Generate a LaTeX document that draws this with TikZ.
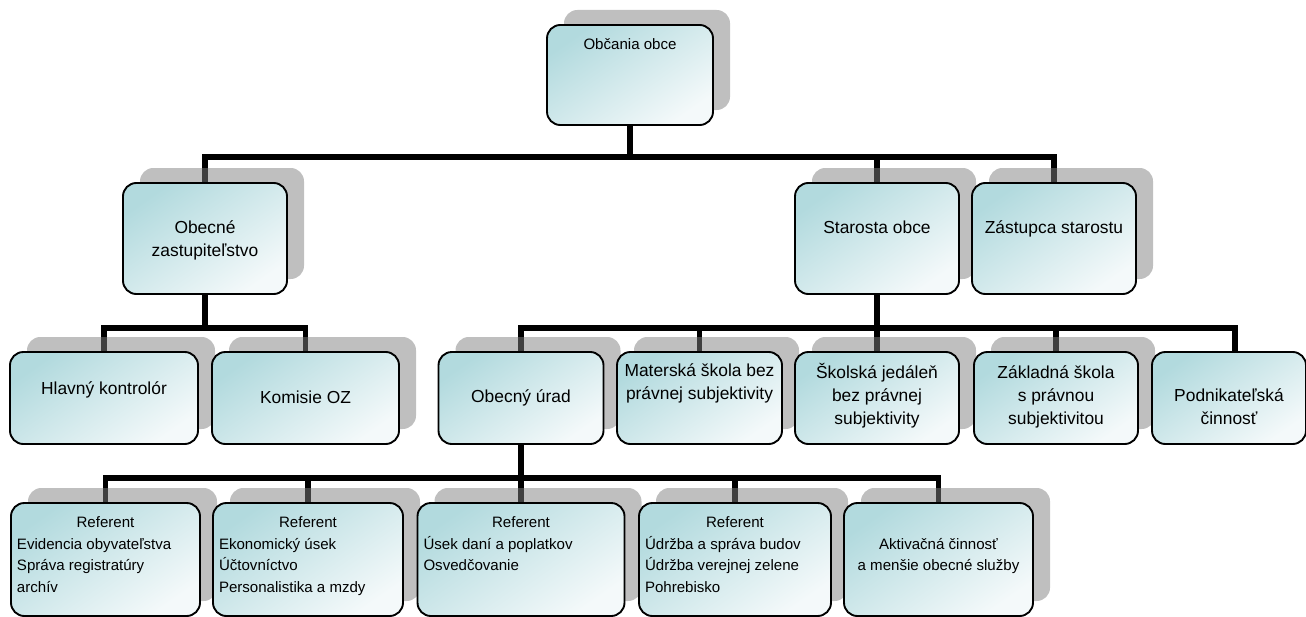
\documentclass[tikz,border=0pt]{standalone}
\usepackage{fontspec}
\setmainfont{Liberation Sans}
\usetikzlibrary{shadows}
\pgfdeclarelayer{lines}
\pgfsetlayers{lines,main}
\definecolor{tealc}{HTML}{B2DADE}
\definecolor{whitec}{HTML}{F4F9FA}
\newcommand\ocbx[3]{\parbox[c][\dimexpr#2pt*3/4\relax][t]{\dimexpr#1pt*3/4\relax}{#3}}
\newcommand\ocfb[1]{\rule{0pt}{\dimexpr#1pt*3/4\relax}}
\newcommand\octop{\fontsize{11.3}{16}\selectfont\centering}
\newcommand\ocmid{\fontsize{13.05}{17.6}\selectfont\centering}
\newcommand\ocbot{\fontsize{11.3}{16.3}\selectfont}
\tikzset{
  ocbase/.style={draw=black, line width=1.4pt, rounded corners=10pt, inner sep=0pt, outer sep=0pt,
    top color=tealc, bottom color=whitec, shading angle=35},
  ocbox/.style={ocbase, drop shadow={shadow xshift=12.75pt, shadow yshift=11.25pt, fill=black!50, opacity=0.5}},
  conn/.style={line width=4.3pt, black},
}
\begin{document}
\begin{tikzpicture}[x=0.75pt, y=-0.75pt]
\useasboundingbox (0,0) rectangle (1306,617);
% top
\node[ocbox] (ob) at (630,75) {\ocbx{166}{100}{\octop\ocfb{25}Občania obce}};
% row 1
\node[ocbox] (oz) at (205,238.5) {\ocbx{164}{111}{\ocmid\ocfb{50}Obecné\\zastupiteľstvo}};
\node[ocbox] (st) at (877,238.5) {\ocbx{164}{111}{\ocmid\ocfb{50}Starosta obce}};
\node[ocbox] (za) at (1054,238.5) {\ocbx{164}{111}{\ocmid\ocfb{50}Zástupca starostu}};
% row 2
\node[ocbox] (hk) at (104,398) {\ocbx{188}{92}{\ocmid\ocfb{42}Hlavný kontrolór}};
\node[ocbox] (ko) at (305.5,398) {\ocbx{187}{92}{\ocmid\ocfb{51}Komisie OZ}};
\node[ocbox] (ou) at (521,398) {\ocbx{165}{92}{\ocmid\ocfb{50}Obecný úrad}};
\node[ocbox] (ms) at (699.5,398) {\ocbx{165}{92}{\ocmid\ocfb{24}Materská škola bez\\právnej subjektivity}};
\node[ocbox] (sj) at (877,398) {\ocbx{164}{92}{\ocmid\ocfb{26}Školská jedáleň\\bez právnej\\subjektivity}};
\node[ocbox] (zs) at (1056,398) {\ocbx{164}{92}{\ocmid\ocfb{26}Základná škola\\s právnou\\subjektivitou}};
\node[ocbase] (po) at (1229,398) {\ocbx{154}{92}{\ocmid\ocfb{49}Podnikateľská\\činnosť}};
% row 3
\node[ocbox] (r1) at (105.5,559.5) {\ocbx{189}{113}{\ocbot\centering\ocfb{24.5}Referent\par\raggedright\leftskip=4.5pt Evidencia obyvateľstva\\Správa registratúry\\archív}};
\node[ocbox] (r2) at (308,559.5) {\ocbx{190}{113}{\ocbot\centering\ocfb{24.5}Referent\par\raggedright\leftskip=4.5pt Ekonomický úsek\\Účtovníctvo\\Personalistika a mzdy}};
\node[ocbox] (r3) at (521,559.5) {\ocbx{207}{113}{\ocbot\centering\ocfb{24.5}Referent\par\raggedright\leftskip=4.5pt Úsek daní a poplatkov\\Osvedčovanie}};
\node[ocbox] (r4) at (735,559.5) {\ocbx{192}{113}{\ocbot\centering\ocfb{24.5}Referent\par\raggedright\leftskip=4.5pt Údržba a správa budov\\Údržba verejnej zelene\\Pohrebisko}};
\node[ocbox] (r5) at (938.5,559.5) {\ocbx{189}{113}{\ocbot\centering\ocfb{46}Aktivačná činnosť\\a menšie obecné služby}};
% connectors
\coordinate (b1) at (630,157);
\coordinate (b2) at (205,328);
\coordinate (b3) at (877,328);
\coordinate (b4) at (521,478);
\begin{pgfonlayer}{lines}
\draw[conn] (ob.south) -- (b1);
\draw[conn] (oz.north) |- (b1) -| (za.north);
\draw[conn] (st.north) -- (st.north |- b1);
\draw[conn] (oz.south) -- (b2);
\draw[conn] (hk.north) |- (b2) -| (ko.north);
\draw[conn] (st.south) -- (sj.north);
\draw[conn] (ou.north) |- (b3) -| ([xshift=4.5pt]po.north);
\draw[conn] (ms.north) -- (ms.north |- b3);
\draw[conn] (zs.north) -- (zs.north |- b3);
\draw[conn] (ou.south) -- (r3.north);
\draw[conn] (r1.north) |- (b4) -| (r5.north);
\draw[conn] (r2.north) -- (r2.north |- b4);
\draw[conn] (r4.north) -- (r4.north |- b4);
\end{pgfonlayer}
\end{tikzpicture}
\end{document}
